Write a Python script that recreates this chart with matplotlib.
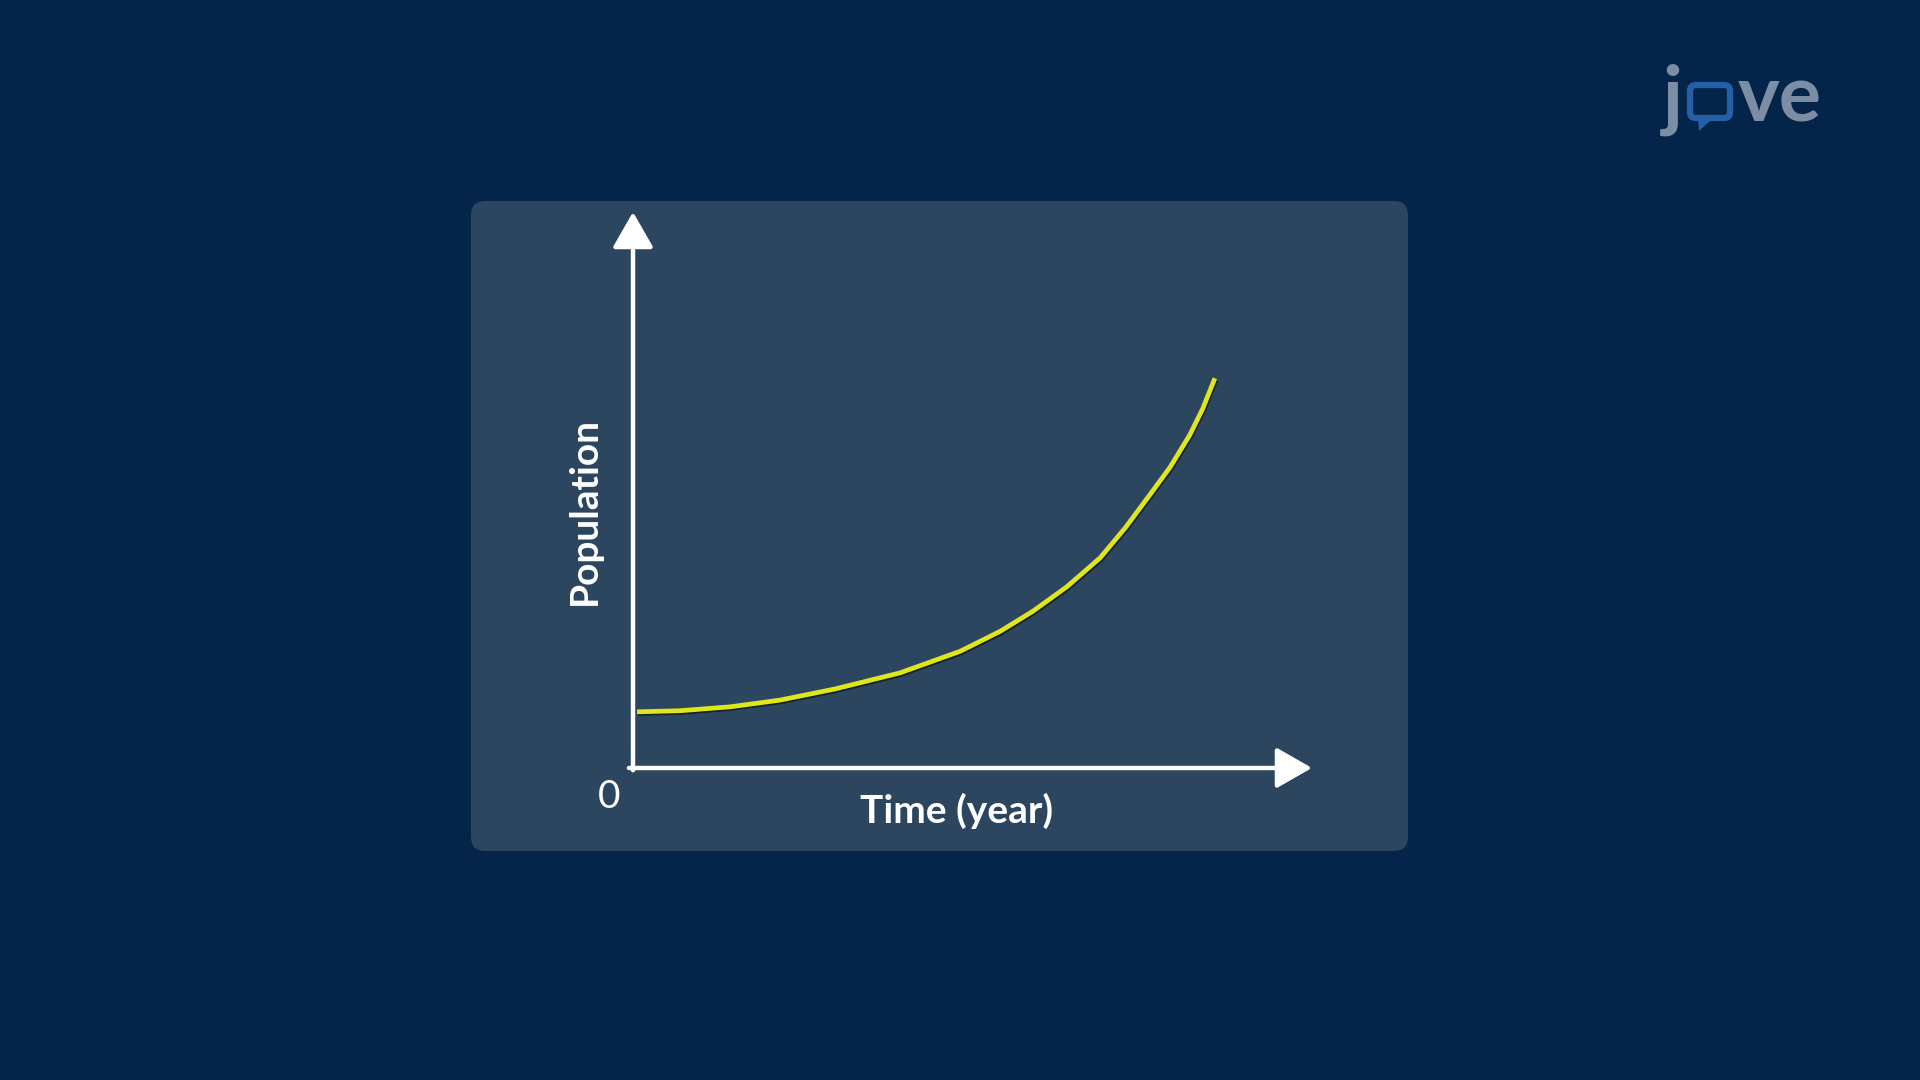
import matplotlib.pyplot as plt
import matplotlib.patheffects as pe
from matplotlib.patches import FancyBboxPatch, Polygon
from matplotlib.transforms import IdentityTransform

# population growth curve (arbitrary units)
time_years = [0.06, 0.69, 1.43, 2.16, 2.97, 3.93, 4.82, 5.41, 5.89, 6.39,
              6.88, 7.25, 7.61, 7.91, 8.20, 8.39, 8.57]
population = [10.1, 10.3, 11.0, 12.2, 14.2, 17.1, 21.0, 24.6, 28.2, 32.6,
              37.8, 43.2, 49.1, 54.1, 59.9, 64.6, 70.1]

x_label = "Time (year)"
y_label = "Population"
origin_label = "0"

BG = "#04244a"
PANEL = "#2c4660"
CURVE = "#dfe61c"
LOGO_GREY = "#7c8ea4"
LOGO_BLUE = "#2360a8"

plt.rcParams['font.family'] = ['Lato', 'DejaVu Sans']

fig = plt.figure(figsize=(19.2, 10.8), dpi=100)
fig.patch.set_facecolor(BG)
H = 1080

# rounded panel behind the chart (pixel coords)
panel = FancyBboxPatch((471, H - 851), 937, 650,
                       boxstyle="round,pad=0,rounding_size=14",
                       transform=IdentityTransform(),
                       facecolor=PANEL, edgecolor="none", zorder=0)
fig.add_artist(panel)

# axes spans origin -> arrow tips
ax = fig.add_axes([633 / 1920, (H - 768) / H, 679 / 1920, 556 / H])
ax.set_xlim(0, 10)
ax.set_ylim(0, 100)
ax.axis("off")
ax.patch.set_alpha(0)

arrow_kw = dict(arrowstyle="-|>,head_length=1.1,head_width=0.63",
                mutation_scale=20, lw=3.2, color="white",
                shrinkA=0, shrinkB=0)
shadow = [pe.SimplePatchShadow(offset=(1.5, -1.5), shadow_rgbFace="black", alpha=0.35),
          pe.Normal()]
ax.annotate("", xy=(1, 0), xytext=(-0.006, 0), xycoords="axes fraction",
            arrowprops=dict(**arrow_kw, path_effects=shadow), annotation_clip=False)
ax.annotate("", xy=(0, 1), xytext=(0, -0.004), xycoords="axes fraction",
            arrowprops=dict(**arrow_kw, path_effects=shadow), annotation_clip=False)

ax.plot(time_years, population, color=CURVE, lw=3.4, solid_capstyle="butt",
        solid_joinstyle="round",
        path_effects=[pe.SimpleLineShadow(offset=(0.8, -1.2), shadow_color="black", alpha=0.5),
                      pe.Normal()], clip_on=False)

ax.text(-0.035, -0.052, origin_label, transform=ax.transAxes, ha="center", va="center",
        color="white", fontsize=28)
ax.text(0.476, -0.078, x_label, transform=ax.transAxes, ha="center", va="center",
        color="white", fontsize=28, fontweight="bold")
ax.text(-0.072, 0.462, y_label, transform=ax.transAxes, ha="center", va="center",
        rotation=90, color="white", fontsize=28, fontweight="bold")

# jove logo, top right
fig.text(1673 / 1920, (H - 122) / H, "j", color=LOGO_GREY, fontsize=57,
         fontweight="bold", ha="center", va="baseline")
fig.text(1780 / 1920, (H - 122) / H, "ve", color=LOGO_GREY, fontsize=57,
         fontweight="bold", ha="center", va="baseline")
bubble = FancyBboxPatch((1690, H - 118), 40, 33,
                        boxstyle="round,pad=0,rounding_size=6",
                        transform=IdentityTransform(),
                        facecolor=BG, edgecolor=LOGO_BLUE, lw=4.5)
fig.add_artist(bubble)
tail = Polygon([(1698, H - 119), (1712, H - 119), (1699, H - 131)],
               closed=True, transform=IdentityTransform(),
               facecolor=LOGO_BLUE, edgecolor="none")
fig.add_artist(tail)

plt.savefig("out.png", dpi=100, facecolor=BG)
